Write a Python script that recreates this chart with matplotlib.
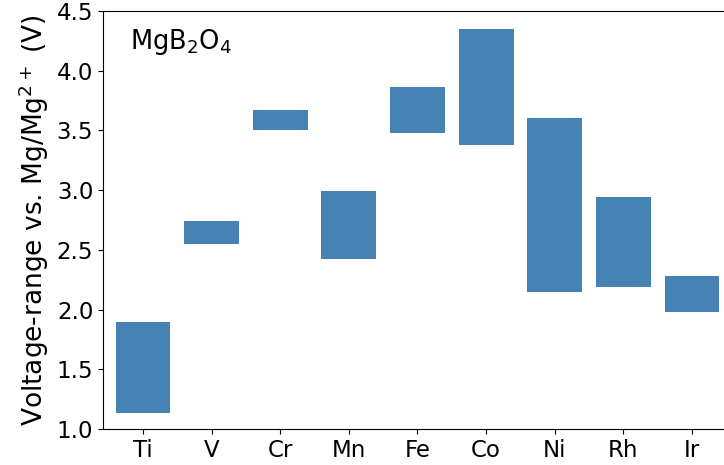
import matplotlib
matplotlib.use("Agg")
import matplotlib.pyplot as plt

elements = ["Ti", "V", "Cr", "Mn", "Fe", "Co", "Ni", "Rh", "Ir"]
v_low = [1.13, 2.55, 3.50, 2.42, 3.48, 3.38, 2.15, 2.19, 1.98]
v_high = [1.90, 2.74, 3.67, 2.99, 3.86, 4.35, 3.60, 2.94, 2.28]
yticks = [1.0, 1.5, 2.0, 2.5, 3.0, 3.5, 4.0, 4.5]

fig = plt.figure(figsize=(7.24, 4.65), dpi=100)
ax = fig.add_axes([0.1423, 0.0774, 0.8798, 0.899])
heights = [h - l for l, h in zip(v_low, v_high)]
ax.bar(range(len(elements)), heights, bottom=v_low, width=0.8, color="steelblue")
ax.set_xticks(range(len(elements)))
ax.set_xticklabels(elements, fontsize=16.5)
ax.set_yticks(yticks)
ax.set_yticklabels([f"{t:.1f}" for t in yticks], fontsize=16.5)
ax.set_ylim(1.0, 4.5)
ax.set_xlim(-0.583, 8.70)
ax.set_ylabel("Voltage-range vs. Mg/Mg$^{2+}$ (V)", fontsize=19, labelpad=4)
ax.text(0.042, 0.962, "MgB$_2$O$_4$", transform=ax.transAxes, fontsize=18.5, va="top", ha="left")
fig.savefig("out.png", dpi=100)
